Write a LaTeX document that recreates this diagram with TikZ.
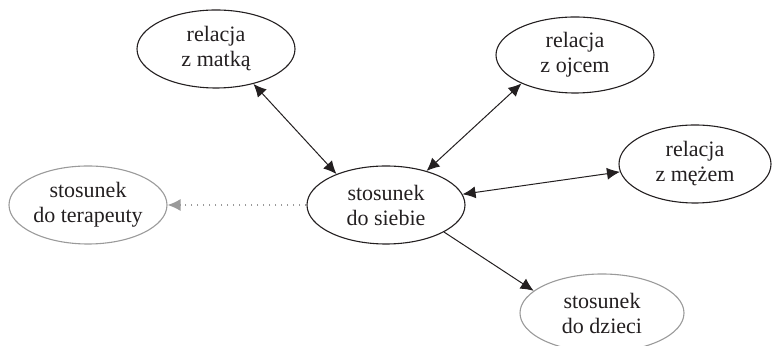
\documentclass[tikz,border=0pt]{standalone}
\usepackage{xcolor}
\usepackage{fontspec}
\setmainfont{Liberation Serif}
\usepackage{tikz}
\usetikzlibrary{shapes.geometric, arrows.meta}

\definecolor{ink}{HTML}{231F20}
\definecolor{pale}{HTML}{9A9A9A}

\tikzset{
	relbox/.style={ellipse, draw=ink, line width=0.55pt, minimum width=79pt, minimum height=39pt,
		inner sep=0pt, align=center, text=ink, font=\fontsize{11}{12.5}\selectfont},
	farbox/.style={relbox, draw=pale},
	both/.style={{Latex[length=6.5pt,width=6pt]}-{Latex[length=6.5pt,width=6pt]}, draw=ink, line width=0.5pt},
	one/.style={-{Latex[length=6.5pt,width=6pt]}, draw=ink, line width=0.5pt},
	faint/.style={-{Latex[length=6.5pt,width=6pt]}, draw=pale, line width=0.7pt, dash pattern=on 0.7pt off 2.3pt},
}

\begin{document}
\begin{tikzpicture}[x=0.5pt, y=-0.5pt]
		\useasboundingbox (0,0) rectangle (772,346);
		\node[relbox] (self) at (386,205) {stosunek\\do siebie};
		\node[relbox] (mother) at (216,49) {relacja\\z matką};
		\node[relbox, minimum height=38pt] (father) at (575,55) {relacja\\z ojcem};
		\node[relbox, minimum width=76pt] (husband) at (695,164) {relacja\\z mężem};
		\node[farbox] (therapist) at (88,205) {stosunek\\do terapeuty};
		\node[farbox, minimum width=82pt] (children) at (602,313) {stosunek\\do dzieci};
		% relacje
		\draw[both] (mother.-43) -- (self.148);
		\draw[both] (father.208) -- (self.40);
		\draw[both] (husband.186) -- (self.8);
		\draw[one] (self.-25) -- (children.162);
		\draw[faint] (self.west) -- (therapist.east);
	\end{tikzpicture}
\end{document}
